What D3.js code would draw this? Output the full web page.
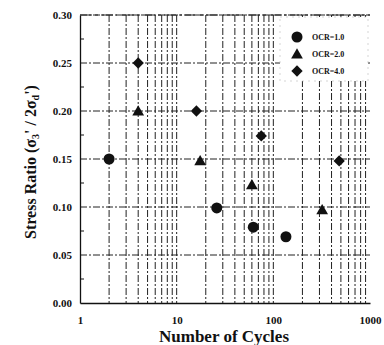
<!DOCTYPE html>
<html>
<head>
<meta charset="utf-8">
<script src="https://cdn.jsdelivr.net/npm/d3@7"></script>
<style>
body { margin: 0; background: #fff; }
svg text { font-family: "Liberation Serif", "DejaVu Serif", serif; font-weight: bold; fill: #111; }
</style>
</head>
<body>
<div id="chart"></div>
<script>
// Chart data
var ocr1Cycles = [2, 26, 62, 135];
var ocr1Ratio = [0.15, 0.099, 0.079, 0.069];
var ocr2Cycles = [4, 17.5, 60, 320];
var ocr2Ratio = [0.20, 0.148, 0.123, 0.097];
var ocr4Cycles = [4, 16, 75, 480];
var ocr4Ratio = [0.25, 0.20, 0.174, 0.148];
var seriesNames = ["OCR=1.0", "OCR=2.0", "OCR=4.0"];
var yTicks = [0, 0.05, 0.10, 0.15, 0.20, 0.25, 0.30];
var xTicks = [1, 10, 100, 1000];

var svgWidth = 384;
var svgHeight = 345;
var margin = { top: 15, right: 14, bottom: 42, left: 80 };
var width = svgWidth - margin.left - margin.right;
var height = svgHeight - margin.top - margin.bottom;

var svg = d3.select("#chart")
	.append("svg")
	.attr("width", svgWidth)
	.attr("height", svgHeight);

var chartGroup = svg.append("g")
	.attr("transform", `translate(${margin.left}, ${margin.top})`);

var xScale = d3.scaleLog().domain([1, 1000]).range([0, width]);
var yScale = d3.scaleLinear().domain([0, 0.30]).range([height, 0]);

var dash = "7,2,2,2";

// vertical grid at every log step
var minorX = [];
for (var dec = 1; dec < 1000; dec *= 10) {
	for (var k = 2; k <= 9; k++) minorX.push(dec * k);
}
minorX.push(10, 100);
chartGroup.selectAll(".vgrid")
	.data(minorX)
	.enter()
	.append("line")
	.attr("x1", d => xScale(d))
	.attr("x2", d => xScale(d))
	.attr("y1", 0)
	.attr("y2", height)
	.attr("stroke", "#222")
	.attr("stroke-width", 1)
	.attr("stroke-dasharray", dash);

// horizontal grid
chartGroup.selectAll(".hgrid")
	.data(yTicks.slice(1))
	.enter()
	.append("line")
	.attr("x1", 0)
	.attr("x2", width)
	.attr("y1", d => yScale(d))
	.attr("y2", d => yScale(d))
	.attr("stroke", "#222")
	.attr("stroke-width", 1)
	.attr("stroke-dasharray", dash);

// left and bottom axes
var leftAxis = d3.axisLeft(yScale).tickValues(yTicks).tickSize(0).tickPadding(8)
	.tickFormat(d3.format(".2f"));
var bottomAxis = d3.axisBottom(xScale).tickValues(xTicks).tickSize(0).tickPadding(13)
	.tickFormat(d3.format("d"));

var yAxis = chartGroup.append("g").call(leftAxis);
var xAxis = chartGroup.append("g")
	.attr("transform", `translate(0, ${height})`)
	.call(bottomAxis);
[yAxis, xAxis].forEach(function(ax) {
	ax.attr("font-family", "Liberation Serif").attr("font-weight", "bold");
	ax.select(".domain").attr("stroke", "#111").attr("stroke-width", 1.3);
	ax.selectAll("text")
		.style("font-family", "'Liberation Serif', serif")
		.style("font-size", "11px")
		.attr("fill", "#111");
});

// minor y ticks
chartGroup.selectAll(".ymin")
	.data([0.025, 0.075, 0.125, 0.175, 0.225, 0.275])
	.enter()
	.append("line")
	.attr("x1", 0)
	.attr("x2", 4)
	.attr("y1", d => yScale(d))
	.attr("y2", d => yScale(d))
	.attr("stroke", "#111");

// top border dashed
chartGroup.append("line")
	.attr("x1", 0).attr("x2", width)
	.attr("y1", 0).attr("y2", 0)
	.attr("stroke", "#222")
	.attr("stroke-dasharray", "12,3,3,3");

// legend box
var legend = chartGroup.append("g")
	.attr("transform", `translate(${width - 90}, 0)`);
legend.append("rect")
	.attr("x", 0).attr("y", 2)
	.attr("width", 88).attr("height", 64)
	.attr("fill", "#fff")
	.attr("stroke", "#bbb")
	.attr("stroke-width", 0.6)
	.attr("stroke-dasharray", "2,4");

var square = d3.symbol().type(d3.symbolSquare).size(64);
var triangle = d3.symbol().type(d3.symbolTriangle).size(60);
var symbols = [
	function(g) { g.append("circle").attr("r", 5.5); },
	function(g) { g.append("path").attr("d", triangle).attr("transform", "translate(0,1)"); },
	function(g) { g.append("path").attr("d", square).attr("transform", "rotate(45)"); }
];

seriesNames.forEach(function(name, i) {
	var item = legend.append("g")
		.attr("transform", `translate(17, ${22 + i * 17})`);
	symbols[i](item);
	item.selectAll("circle, path").attr("fill", "#111");
	item.append("text")
		.attr("x", 15)
		.attr("dy", "0.35em")
		.style("font-size", "8px")
		.text(name);
});

// data points
var allSeries = [
	{ cycles: ocr1Cycles, ratio: ocr1Ratio },
	{ cycles: ocr2Cycles, ratio: ocr2Ratio },
	{ cycles: ocr4Cycles, ratio: ocr4Ratio }
];
allSeries.forEach(function(s, i) {
	s.cycles.forEach(function(c, j) {
		var pt = chartGroup.append("g")
			.attr("transform", `translate(${xScale(c)}, ${yScale(s.ratio[j])})`);
		symbols[i](pt);
		pt.selectAll("circle, path").attr("fill", "#111");
	});
});

// axis titles
svg.append("text")
	.attr("x", 224)
	.attr("y", 342)
	.attr("text-anchor", "middle")
	.style("font-size", "17px")
	.text("Number of Cycles");

var ylab = svg.append("text")
	.attr("transform", `translate(36, ${margin.top + height / 2 + 3}) rotate(-90)`)
	.attr("text-anchor", "middle")
	.style("font-size", "16px");
ylab.append("tspan").text("Stress Ratio (σ");
ylab.append("tspan").attr("dy", 3).style("font-size", "10px").text("3");
ylab.append("tspan").attr("dy", -3).text("' / 2σ");
ylab.append("tspan").attr("dy", 3).style("font-size", "10px").text("d");
ylab.append("tspan").attr("dy", -3).text("')");
</script>
</body>
</html>
